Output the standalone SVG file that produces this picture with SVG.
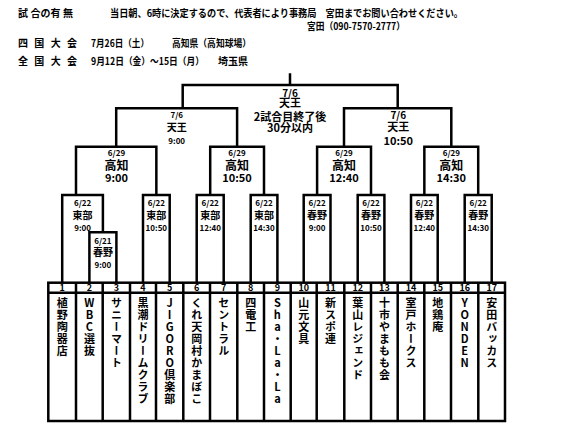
<svg xmlns="http://www.w3.org/2000/svg" width="587" height="443" viewBox="0 0 587 443">
<style>
.t{font-family:"Noto Sans CJK JP","Liberation Sans",sans-serif;font-weight:bold;fill:#000}
.c{text-anchor:middle}
.h{font-size:10px}
.s8{font-size:8px}
.s10{font-size:10px}
.s11{font-size:11px}
.s12{font-size:12px}
.n{font-size:9px;text-anchor:middle}
.v{font-size:11px;writing-mode:vertical-rl;text-orientation:upright;letter-spacing:1px}
.ln{fill:none;stroke:#000;stroke-width:2.5;stroke-linejoin:miter}
</style>
<rect width="587" height="443" fill="#fff"/>
<g id="header" class="t h">
<text x="18" y="17" textLength="55" lengthAdjust="spacing">試 合の有 無</text>
<text x="110" y="17" textLength="353" lengthAdjust="spacingAndGlyphs">当日朝、6時に決定するので、代表者により事務局　宮田までお問い合わせください。</text>
<text x="307" y="29.7" textLength="98" lengthAdjust="spacingAndGlyphs">宮田（090-7570-2777）</text>
<text x="18" y="47" textLength="59" lengthAdjust="spacing">四 国 大 会</text>
<text x="91" y="47" textLength="58" lengthAdjust="spacingAndGlyphs">7月26日（土）</text>
<text x="172" y="47" textLength="79" lengthAdjust="spacingAndGlyphs">高知県（高知球場）</text>
<text x="18" y="64.7" textLength="59" lengthAdjust="spacing">全 国 大 会</text>
<text x="91" y="64.7" textLength="113" lengthAdjust="spacingAndGlyphs">9月12日（金）～15日（月）</text>
<text x="218" y="64.7" textLength="30" lengthAdjust="spacingAndGlyphs">埼玉県</text>
</g>
<g id="connectors" class="ln">
<path d="M290 73.3V85M182.7 108.3V85H397.7V108.3"/>
<path d="M116.2 146.7V108.3H237.1V146.7"/>
<path d="M344 146.7V108.3H451.3V146.7"/>
<path d="M76 195V146.7H156.35V195"/>
<path d="M210.2 195V146.7H264V195"/>
<path d="M317.1 195V146.7H371V195"/>
<path d="M424.35 195V146.7H478.2V195"/>
<path d="M62.2 282.7V195H102.9V232.3"/>
<path d="M89.4 282.7V232.3H116.4V282.7"/>
<path d="M143 282.7V195H169.7V282.7"/>
<path d="M196.7 282.7V195H223.7V282.7"/>
<path d="M250.7 282.7V195H277.4V282.7"/>
<path d="M303.7 282.7V195H330.5V282.7"/>
<path d="M357.7 282.7V195H384.4V282.7"/>
<path d="M411 282.7V195H437.7V282.7"/>
<path d="M464.7 282.7V195H491.7V282.7"/>
</g>
<g id="game-final" class="t c">
<text x="290" y="97" class="s10">7/6</text>
<text x="290" y="107.3" class="s11">天王</text>
<text x="290" y="120.7" class="s11">2試合目終了後</text>
<text x="290" y="132.3" class="s11">30分以内</text>
</g>
<g id="game-sf1" class="t c">
<text x="176.7" y="118" class="s8">7/6</text>
<text x="176.7" y="131" class="s10">天王</text>
<text x="176.7" y="144" class="s8">9:00</text>
</g>
<g id="game-sf2" class="t c">
<text x="398.3" y="118.7" class="s10">7/6</text>
<text x="398.3" y="131.3" class="s11">天王</text>
<text x="398.3" y="145" class="s11">10:50</text>
</g>
<g id="game-qf1" class="t c">
<text x="116.5" y="155.7" class="s8">6/29</text>
<text x="116.5" y="170.2" class="s12">高知</text>
<text x="116.5" y="182.3" class="s11">9:00</text>
</g>
<g id="game-qf2" class="t c">
<text x="237" y="155.7" class="s8">6/29</text>
<text x="237" y="170.2" class="s12">高知</text>
<text x="237" y="182.3" class="s11">10:50</text>
</g>
<g id="game-qf3" class="t c">
<text x="344" y="155.7" class="s8">6/29</text>
<text x="344" y="170.2" class="s12">高知</text>
<text x="344" y="182.3" class="s11">12:40</text>
</g>
<g id="game-qf4" class="t c">
<text x="451.3" y="155.7" class="s8">6/29</text>
<text x="451.3" y="170.2" class="s12">高知</text>
<text x="451.3" y="182.3" class="s11">14:30</text>
</g>
<g id="game-r2-1" class="t c">
<text x="82.6" y="206.3" class="s8">6/22</text>
<text x="82.6" y="219.4" class="s10">東部</text>
<text x="82.6" y="230.7" class="s8">9:00</text>
</g>
<g id="game-r2-2" class="t c">
<text x="156.35" y="206.3" class="s8">6/22</text>
<text x="156.35" y="219.4" class="s10">東部</text>
<text x="156.35" y="230.7" class="s8">10:50</text>
</g>
<g id="game-r2-3" class="t c">
<text x="210.2" y="206.3" class="s8">6/22</text>
<text x="210.2" y="219.4" class="s10">東部</text>
<text x="210.2" y="230.7" class="s8">12:40</text>
</g>
<g id="game-r2-4" class="t c">
<text x="264" y="206.3" class="s8">6/22</text>
<text x="264" y="219.4" class="s10">東部</text>
<text x="264" y="230.7" class="s8">14:30</text>
</g>
<g id="game-r2-5" class="t c">
<text x="317.1" y="206.3" class="s8">6/22</text>
<text x="317.1" y="219.4" class="s10">春野</text>
<text x="317.1" y="230.7" class="s8">9:00</text>
</g>
<g id="game-r2-6" class="t c">
<text x="371" y="206.3" class="s8">6/22</text>
<text x="371" y="219.4" class="s10">春野</text>
<text x="371" y="230.7" class="s8">10:50</text>
</g>
<g id="game-r2-7" class="t c">
<text x="424.35" y="206.3" class="s8">6/22</text>
<text x="424.35" y="219.4" class="s10">春野</text>
<text x="424.35" y="230.7" class="s8">12:40</text>
</g>
<g id="game-r2-8" class="t c">
<text x="478.2" y="206.3" class="s8">6/22</text>
<text x="478.2" y="219.4" class="s10">春野</text>
<text x="478.2" y="230.7" class="s8">14:30</text>
</g>
<g id="game-r1" class="t c">
<text x="102.9" y="243.7" class="s8">6/21</text>
<text x="102.9" y="256.4" class="s10">春野</text>
<text x="102.9" y="268" class="s8">9:00</text>
</g>
<g id="table" class="ln">
<rect x="48.3" y="282.7" width="456.7" height="138.3"/>
<path d="M48.3 292.7H505M76 282.7V421M102.7 282.7V421M130 282.7V421M156 282.7V421M183.3 282.7V421M210 282.7V421M237.3 282.7V421M264 282.7V421M290.7 282.7V421M316.7 282.7V421M344.3 282.7V421M371 282.7V421M397.7 282.7V421M424.3 282.7V421M451 282.7V421M478.3 282.7V421"/>
</g>
<g id="team-1" class="t"><text x="62.2" y="291.3" class="n">1</text><text x="62.2" y="297.8" class="v">植野陶器店</text></g>
<g id="team-2" class="t"><text x="89.4" y="291.3" class="n">2</text><text x="89.4" y="297.8" class="v">WBC選抜</text></g>
<g id="team-3" class="t"><text x="116.4" y="291.3" class="n">3</text><text x="116.4" y="297.8" class="v">サニーマート</text></g>
<g id="team-4" class="t"><text x="143" y="291.3" class="n">4</text><text x="143" y="297.8" class="v">黒潮ドリームクラブ</text></g>
<g id="team-5" class="t"><text x="169.7" y="291.3" class="n">5</text><text x="169.7" y="297.8" class="v">JIGORO倶楽部</text></g>
<g id="team-6" class="t"><text x="196.7" y="291.3" class="n">6</text><text x="196.7" y="297.8" class="v">くれ天岡村かまぼこ</text></g>
<g id="team-7" class="t"><text x="223.7" y="291.3" class="n">7</text><text x="223.7" y="297.8" class="v">セントラル</text></g>
<g id="team-8" class="t"><text x="250.7" y="291.3" class="n">8</text><text x="250.7" y="297.8" class="v">四電工</text></g>
<g id="team-9" class="t"><text x="277.4" y="291.3" class="n">9</text><text x="277.4" y="297.8" class="v">Sha・La・La</text></g>
<g id="team-10" class="t"><text x="303.7" y="291.3" class="n">10</text><text x="303.7" y="297.8" class="v">山元文具</text></g>
<g id="team-11" class="t"><text x="330.5" y="291.3" class="n">11</text><text x="330.5" y="297.8" class="v">新スポ連</text></g>
<g id="team-12" class="t"><text x="357.7" y="291.3" class="n">12</text><text x="357.7" y="297.8" class="v">葉山レジェンド</text></g>
<g id="team-13" class="t"><text x="384.4" y="291.3" class="n">13</text><text x="384.4" y="297.8" class="v">十市やまもも会</text></g>
<g id="team-14" class="t"><text x="411" y="291.3" class="n">14</text><text x="411" y="297.8" class="v">室戸ホークス</text></g>
<g id="team-15" class="t"><text x="437.7" y="291.3" class="n">15</text><text x="437.7" y="297.8" class="v">地鶏庵</text></g>
<g id="team-16" class="t"><text x="464.7" y="291.3" class="n">16</text><text x="464.7" y="297.8" class="v">YONDEN</text></g>
<g id="team-17" class="t"><text x="491.7" y="291.3" class="n">17</text><text x="491.7" y="297.8" class="v">安田バッカス</text></g>
</svg>
